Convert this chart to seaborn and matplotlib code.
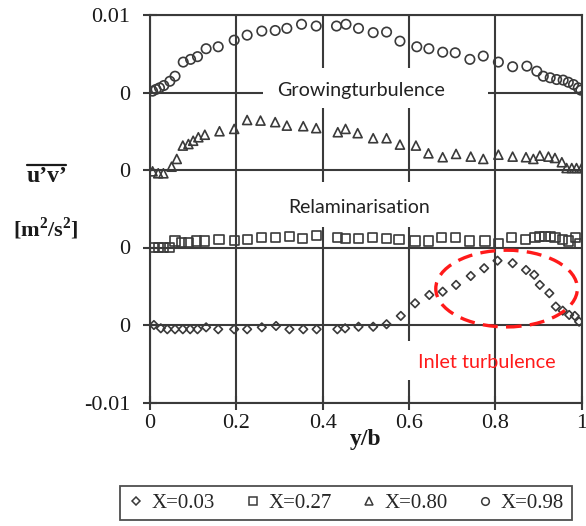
import matplotlib
matplotlib.use("Agg")
import matplotlib.pyplot as plt
from matplotlib.patches import Ellipse, Rectangle
from matplotlib.lines import Line2D
import numpy as np
import pandas as pd
import seaborn as sns

# ---------------- data: Reynolds shear stress profiles u'v' [m^2/s^2] ----------------
yb_x003 = [0.009, 0.025, 0.040, 0.058, 0.076, 0.093, 0.110, 0.130, 0.158, 0.195, 0.225,
           0.259, 0.292, 0.323, 0.355, 0.386, 0.434, 0.452, 0.483, 0.517, 0.548, 0.581,
           0.614, 0.647, 0.678, 0.709, 0.743, 0.774, 0.805, 0.840, 0.871, 0.890, 0.903,
           0.925, 0.940, 0.956, 0.971, 0.984, 0.994]
uv_x003 = [0.0, -0.00017, -0.00022, -0.00022, -0.00022, -0.00022, -0.00022, -0.00012,
           -0.00022, -0.00022, -0.00022, -0.00012, -0.00005, -0.00022, -0.00022, -0.00022,
           -0.00022, -0.00017, -0.00009, -0.00009, 0.00004, 0.00047, 0.00112, 0.00155,
           0.00172, 0.00207, 0.00253, 0.00293, 0.00332, 0.00319, 0.00284, 0.00259, 0.00207,
           0.00164, 0.00095, 0.00074, 0.00052, 0.00047, 0.00017]

yb_x027 = [0.008, 0.019, 0.031, 0.045, 0.058, 0.073, 0.089, 0.108, 0.127, 0.160, 0.195,
           0.225, 0.259, 0.290, 0.323, 0.353, 0.386, 0.434, 0.452, 0.483, 0.516, 0.548,
           0.577, 0.614, 0.645, 0.676, 0.707, 0.741, 0.776, 0.807, 0.838, 0.869, 0.892,
           0.903, 0.915, 0.927, 0.938, 0.956, 0.969, 0.985, 0.994]
uv_x027 = [0.0, 0.0, 0.0, 0.0, 0.00033, 0.00027, 0.00027, 0.00033, 0.00033, 0.0004,
           0.00036, 0.0004, 0.00053, 0.00053, 0.00057, 0.00045, 0.00062, 0.00053, 0.00045,
           0.00045, 0.00053, 0.00045, 0.0004, 0.00033, 0.00033, 0.00053, 0.00053, 0.00033,
           0.00033, 0.00022, 0.00053, 0.0004, 0.00053, 0.00057, 0.00057, 0.00057, 0.00053,
           0.0004, 0.00033, 0.00053, 0.00019]

yb_x080 = [0.006, 0.019, 0.031, 0.050, 0.062, 0.076, 0.089, 0.100, 0.112, 0.127, 0.161,
           0.195, 0.225, 0.256, 0.290, 0.317, 0.355, 0.385, 0.435, 0.453, 0.481, 0.517,
           0.548, 0.579, 0.616, 0.645, 0.678, 0.709, 0.743, 0.772, 0.807, 0.840, 0.871,
           0.888, 0.903, 0.923, 0.938, 0.954, 0.965, 0.977, 0.988, 1.0]
uv_x080 = [-0.00007, -0.00017, -0.00017, 0.00017, 0.00057, 0.00126, 0.00134, 0.00151,
           0.00169, 0.00182, 0.0020, 0.00212, 0.00258, 0.00255, 0.00247, 0.00229, 0.00226,
           0.00216, 0.00195, 0.00212, 0.0019, 0.00164, 0.00164, 0.00131, 0.00126, 0.00086,
           0.00066, 0.00083, 0.00069, 0.00057, 0.00079, 0.00069, 0.00066, 0.00057, 0.00074,
           0.00069, 0.00062, 0.0004, 0.0001, 0.0001, 0.0001, 0.0001]

yb_x098 = [0.006, 0.014, 0.022, 0.032, 0.046, 0.058, 0.077, 0.094, 0.110, 0.130, 0.158,
           0.195, 0.225, 0.259, 0.290, 0.317, 0.351, 0.385, 0.432, 0.454, 0.483, 0.517,
           0.548, 0.579, 0.618, 0.646, 0.678, 0.707, 0.741, 0.772, 0.807, 0.840, 0.873,
           0.896, 0.911, 0.927, 0.942, 0.957, 0.969, 0.981, 0.992, 0.998]
uv_x098 = [0.00007, 0.00016, 0.00024, 0.00036, 0.00058, 0.00084, 0.00157, 0.00171, 0.00185,
           0.00226, 0.00236, 0.0027, 0.00296, 0.00317, 0.0032, 0.00331, 0.00352, 0.00343,
           0.00343, 0.00352, 0.00331, 0.00309, 0.00312, 0.00265, 0.00236, 0.00226, 0.00208,
           0.00205, 0.00171, 0.00188, 0.00157, 0.00133, 0.00136, 0.0011, 0.00084, 0.00076,
           0.00067, 0.00064, 0.00053, 0.00041, 0.00024, 0.00012]

series_names = ["X=0.03", "X=0.27", "X=0.80", "X=0.98"]
# each profile is shifted to its own zero line
series_offsets = [-0.006, -0.002, 0.002, 0.006]

y_ticks = [-0.01, -0.006, -0.002, 0.002, 0.006, 0.01]
y_tick_labels = ["-0.01", "0", "0", "0", "0", "0.01"]
x_ticks = [0, 0.2, 0.4, 0.6, 0.8, 1.0]
x_tick_labels = ["0", "0.2", "0.4", "0.6", "0.8", "1"]

frames = []
for name, xs, vs, off in zip(series_names,
                             [yb_x003, yb_x027, yb_x080, yb_x098],
                             [uv_x003, uv_x027, uv_x080, uv_x098],
                             series_offsets):
    d = pd.DataFrame({"y/b": xs, "uv": vs})
    d["series"] = name
    d["shifted"] = d["uv"] + off
    frames.append(d)
df = pd.concat(frames, ignore_index=True)

# ---------------- style ----------------
sns.set_theme(style="white")
plt.rcParams["font.family"] = ["Liberation Serif", "DejaVu Serif"]
plt.rcParams["mathtext.fontset"] = "custom"
plt.rcParams["mathtext.rm"] = "Liberation Serif"
plt.rcParams["mathtext.bf"] = "Liberation Serif:bold"
INK = "#3a3a3a"

fig = plt.figure(figsize=(5.86, 5.26), dpi=100)
W, H = 586, 526
ax = fig.add_axes([150 / W, 1 - 402.5 / H, 431.7 / W, 387.5 / H])

marker_style = {
    "X=0.03": dict(marker="D", s=19),
    "X=0.27": dict(marker="s", s=44),
    "X=0.80": dict(marker="^", s=42),
    "X=0.98": dict(marker="o", s=46),
}
for name in series_names:
    sub = df[df["series"] == name]
    sns.scatterplot(data=sub, x="y/b", y="shifted", ax=ax,
                    facecolors="none", edgecolor=INK, linewidth=1.2,
                    zorder=3, legend=False, **marker_style[name])

ax.set_xlim(0, 1)
ax.set_ylim(-0.01, 0.01)
ax.set_xticks(x_ticks)
ax.set_xticklabels(x_tick_labels)
ax.set_yticks(y_ticks)
ax.set_yticklabels(y_tick_labels)
ax.set_xlabel("")
ax.set_ylabel("")
ax.grid(True, color=INK, linewidth=1.5, zorder=1)
ax.set_axisbelow(True)
for sp in ax.spines.values():
    sp.set_color(INK)
    sp.set_linewidth(1.5)
    sp.set_visible(True)
ax.tick_params(axis="both", direction="inout", length=10, width=1.5, color=INK,
               labelsize=16, labelcolor="#1a1a1a")
ax.tick_params(axis="x", pad=3)
ax.tick_params(axis="y", pad=9)
ax.tick_params(left=True, bottom=True)

# white backgrounds behind the annotation texts (they interrupt the grid)
ax.add_patch(Rectangle((0.262, 0.00519), 0.521, 0.00207, facecolor="white",
                       edgecolor="none", zorder=2))
ax.add_patch(Rectangle((0.278, -0.00096), 0.405, 0.00233, facecolor="white",
                       edgecolor="none", zorder=2))
ax.add_patch(Rectangle((0.58, -0.00886), 0.04, 0.00206, facecolor="white",
                       edgecolor="none", zorder=2))

sans = ["Lato", "DejaVu Sans"]
ax.text(0.49, 0.00612, "Growingturbulence", ha="center", va="center",
        fontsize=14.2, family=sans, color="#222222", zorder=4)
ax.text(0.484, 0.00008, "Relaminarisation", ha="center", va="center",
        fontsize=14, family=sans, color="#222222", zorder=4)
ax.text(0.781, -0.00793, "Inlet turbulence", ha="center", va="center",
        fontsize=14.3, family=sans, color="#ff1a1a", zorder=4)

ax.add_patch(Ellipse((0.826, -0.00412), 0.328, 0.00396, fill=False,
                     edgecolor="#ff1a1a", linewidth=2.4, linestyle=(0, (4.5, 2.5)),
                     zorder=4))

# axis titles
fig.text(366 / W, 1 - 440 / H, "y/b", ha="center", va="center",
         fontsize=17, fontweight="bold", color="#1a1a1a")
fig.text(47 / W, 1 - 177 / H, "u\u2019v\u2019", ha="center", va="center",
         fontsize=17, fontweight="bold", color="#1a1a1a")
fig.add_artist(Line2D([27 / W, 66 / W], [1 - 165 / H, 1 - 165 / H],
                      transform=fig.transFigure, color="#1a1a1a", linewidth=1.6))
fig.text(46 / W, 1 - 229 / H, "[m$^\\mathbf{2}$/s$^\\mathbf{2}$]", ha="center",
         va="center", fontsize=16, fontweight="bold", color="#1a1a1a")

# legend
handles = [Line2D([], [], linestyle="none", marker=marker_style[n]["marker"],
                  markersize=(4.2 if n == "X=0.03" else 5.5), markerfacecolor="none",
                  markeredgecolor=INK, markeredgewidth=1.1)
           for n in series_names]
leg = fig.legend(handles, series_names, loc="center", ncol=4,
                 bbox_to_anchor=(346 / W, 1 - 503 / H), frameon=True, fancybox=False,
                 edgecolor="#222222", fontsize=15, handlelength=0.8,
                 handletextpad=0.35, columnspacing=1.4, borderpad=0.35)
leg.get_frame().set_linewidth(1.3)

fig.savefig("out.png", dpi=100)
